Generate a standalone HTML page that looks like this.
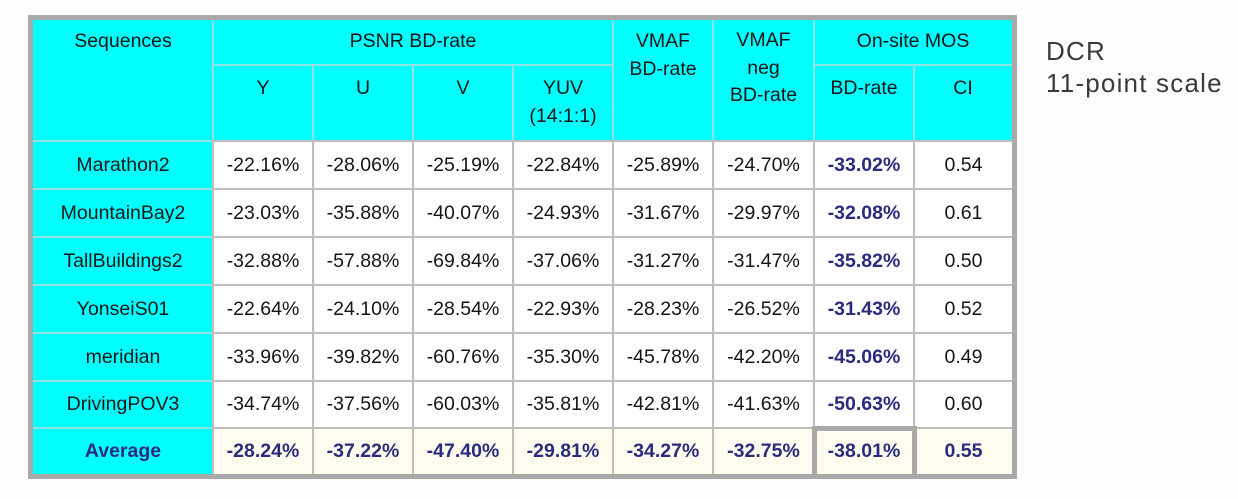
<!DOCTYPE html>
<html>
<head>
<meta charset="utf-8">
<style>
  html,body{margin:0;padding:0;}
  body{width:1238px;height:499px;background:#fdfdfd;position:relative;overflow:hidden;font-family:"Liberation Sans",Arial,sans-serif;}
  .abs{position:absolute;}
  .c{position:absolute;display:flex;align-items:center;justify-content:center;font-size:19.5px;color:#151515;}
  .b{font-weight:bold;color:#2b2b7d;}
  .h{position:absolute;text-align:center;font-size:19.5px;color:#151515;line-height:28px;}
  .lg{position:absolute;background:#bdbdbd;}
  .lc{position:absolute;background:#8fe3e3;}
</style>
</head>
<body>
<div class="abs" style="left:28px;top:15px;width:989px;height:464px;background:#a9a9a9;"></div>
<div class="abs" style="left:33px;top:20px;width:979px;height:454px;background:#ffffff;"></div>
<div class="abs" style="left:213px;top:428px;width:799px;height:46px;background:#fdfcee;"></div>
<div class="abs" style="left:33px;top:20px;width:979px;height:121px;background:#00ffff;"></div>
<div class="abs" style="left:33px;top:20px;width:180px;height:454px;background:#00ffff;"></div>

<div class="lc" style="left:213px;top:64px;width:400px;height:2px;"></div>
<div class="lc" style="left:814px;top:64px;width:198px;height:2px;"></div>
<div class="lc" style="left:312px;top:65px;width:2px;height:76px;"></div>
<div class="lc" style="left:412px;top:65px;width:2px;height:76px;"></div>
<div class="lc" style="left:512px;top:65px;width:2px;height:76px;"></div>
<div class="lc" style="left:913px;top:65px;width:2px;height:76px;"></div>
<div class="lc" style="left:612px;top:20px;width:2px;height:121px;"></div>
<div class="lc" style="left:712px;top:20px;width:2px;height:121px;"></div>
<div class="lc" style="left:813px;top:20px;width:2px;height:121px;"></div>
<div class="lc" style="left:212px;top:20px;width:2px;height:121px;"></div>
<div class="lc" style="left:33px;top:140px;width:180px;height:2px;"></div>
<div class="lc" style="left:33px;top:188px;width:180px;height:2px;"></div>
<div class="lc" style="left:33px;top:236px;width:180px;height:2px;"></div>
<div class="lc" style="left:33px;top:284px;width:180px;height:2px;"></div>
<div class="lc" style="left:33px;top:332px;width:180px;height:2px;"></div>
<div class="lc" style="left:33px;top:380px;width:180px;height:2px;"></div>
<div class="lc" style="left:33px;top:427px;width:180px;height:2px;"></div>

<div class="lg" style="left:212px;top:140px;width:800px;height:2px;"></div>
<div class="lg" style="left:212px;top:188px;width:800px;height:2px;"></div>
<div class="lg" style="left:212px;top:236px;width:800px;height:2px;"></div>
<div class="lg" style="left:212px;top:284px;width:800px;height:2px;"></div>
<div class="lg" style="left:212px;top:332px;width:800px;height:2px;"></div>
<div class="lg" style="left:212px;top:380px;width:800px;height:2px;"></div>
<div class="lg" style="left:212px;top:427px;width:800px;height:2px;"></div>
<div class="lg" style="left:212px;top:141px;width:2px;height:333px;"></div>
<div class="lg" style="left:312px;top:141px;width:2px;height:333px;"></div>
<div class="lg" style="left:412px;top:141px;width:2px;height:333px;"></div>
<div class="lg" style="left:512px;top:141px;width:2px;height:333px;"></div>
<div class="lg" style="left:612px;top:141px;width:2px;height:333px;"></div>
<div class="lg" style="left:712px;top:141px;width:2px;height:333px;"></div>
<div class="lg" style="left:813px;top:141px;width:2px;height:333px;"></div>
<div class="lg" style="left:913px;top:141px;width:2px;height:333px;"></div>

<div class="abs" style="left:812px;top:426px;width:95px;height:43px;border:5px solid #a9a9a9;"></div>

<div class="h" style="left:33px;top:27px;width:180px;">Sequences</div>
<div class="h" style="left:213px;top:27px;width:400px;">PSNR BD-rate</div>
<div class="h" style="left:613px;top:27px;width:100px;">VMAF<br>BD-rate</div>
<div class="h" style="left:713px;top:27px;width:101px;line-height:27.5px;">VMAF<br>neg<br>BD-rate</div>
<div class="h" style="left:814px;top:27px;width:198px;">On-site MOS</div>
<div class="h" style="left:213px;top:74px;width:100px;">Y</div>
<div class="h" style="left:313px;top:74px;width:100px;">U</div>
<div class="h" style="left:413px;top:74px;width:100px;">V</div>
<div class="h" style="left:513px;top:74px;width:100px;">YUV<br>(14:1:1)</div>
<div class="h" style="left:814px;top:74px;width:100px;">BD-rate</div>
<div class="h" style="left:914px;top:74px;width:98px;">CI</div>

<div class="c" style="left:33px;top:142px;width:180px;height:46px;">Marathon2</div>
<div class="c" style="left:214px;top:142px;width:98px;height:46px;">-22.16%</div>
<div class="c" style="left:314px;top:142px;width:98px;height:46px;">-28.06%</div>
<div class="c" style="left:414px;top:142px;width:98px;height:46px;">-25.19%</div>
<div class="c" style="left:514px;top:142px;width:98px;height:46px;">-22.84%</div>
<div class="c" style="left:614px;top:142px;width:98px;height:46px;">-25.89%</div>
<div class="c" style="left:714px;top:142px;width:99px;height:46px;">-24.70%</div>
<div class="c b" style="left:815px;top:142px;width:98px;height:46px;">-33.02%</div>
<div class="c" style="left:915px;top:142px;width:97px;height:46px;">0.54</div>

<div class="c" style="left:33px;top:190px;width:180px;height:46px;">MountainBay2</div>
<div class="c" style="left:214px;top:190px;width:98px;height:46px;">-23.03%</div>
<div class="c" style="left:314px;top:190px;width:98px;height:46px;">-35.88%</div>
<div class="c" style="left:414px;top:190px;width:98px;height:46px;">-40.07%</div>
<div class="c" style="left:514px;top:190px;width:98px;height:46px;">-24.93%</div>
<div class="c" style="left:614px;top:190px;width:98px;height:46px;">-31.67%</div>
<div class="c" style="left:714px;top:190px;width:99px;height:46px;">-29.97%</div>
<div class="c b" style="left:815px;top:190px;width:98px;height:46px;">-32.08%</div>
<div class="c" style="left:915px;top:190px;width:97px;height:46px;">0.61</div>

<div class="c" style="left:33px;top:238px;width:180px;height:46px;">TallBuildings2</div>
<div class="c" style="left:214px;top:238px;width:98px;height:46px;">-32.88%</div>
<div class="c" style="left:314px;top:238px;width:98px;height:46px;">-57.88%</div>
<div class="c" style="left:414px;top:238px;width:98px;height:46px;">-69.84%</div>
<div class="c" style="left:514px;top:238px;width:98px;height:46px;">-37.06%</div>
<div class="c" style="left:614px;top:238px;width:98px;height:46px;">-31.27%</div>
<div class="c" style="left:714px;top:238px;width:99px;height:46px;">-31.47%</div>
<div class="c b" style="left:815px;top:238px;width:98px;height:46px;">-35.82%</div>
<div class="c" style="left:915px;top:238px;width:97px;height:46px;">0.50</div>

<div class="c" style="left:33px;top:286px;width:180px;height:46px;">YonseiS01</div>
<div class="c" style="left:214px;top:286px;width:98px;height:46px;">-22.64%</div>
<div class="c" style="left:314px;top:286px;width:98px;height:46px;">-24.10%</div>
<div class="c" style="left:414px;top:286px;width:98px;height:46px;">-28.54%</div>
<div class="c" style="left:514px;top:286px;width:98px;height:46px;">-22.93%</div>
<div class="c" style="left:614px;top:286px;width:98px;height:46px;">-28.23%</div>
<div class="c" style="left:714px;top:286px;width:99px;height:46px;">-26.52%</div>
<div class="c b" style="left:815px;top:286px;width:98px;height:46px;">-31.43%</div>
<div class="c" style="left:915px;top:286px;width:97px;height:46px;">0.52</div>

<div class="c" style="left:33px;top:334px;width:180px;height:46px;">meridian</div>
<div class="c" style="left:214px;top:334px;width:98px;height:46px;">-33.96%</div>
<div class="c" style="left:314px;top:334px;width:98px;height:46px;">-39.82%</div>
<div class="c" style="left:414px;top:334px;width:98px;height:46px;">-60.76%</div>
<div class="c" style="left:514px;top:334px;width:98px;height:46px;">-35.30%</div>
<div class="c" style="left:614px;top:334px;width:98px;height:46px;">-45.78%</div>
<div class="c" style="left:714px;top:334px;width:99px;height:46px;">-42.20%</div>
<div class="c b" style="left:815px;top:334px;width:98px;height:46px;">-45.06%</div>
<div class="c" style="left:915px;top:334px;width:97px;height:46px;">0.49</div>

<div class="c" style="left:33px;top:382px;width:180px;height:45px;">DrivingPOV3</div>
<div class="c" style="left:214px;top:382px;width:98px;height:45px;">-34.74%</div>
<div class="c" style="left:314px;top:382px;width:98px;height:45px;">-37.56%</div>
<div class="c" style="left:414px;top:382px;width:98px;height:45px;">-60.03%</div>
<div class="c" style="left:514px;top:382px;width:98px;height:45px;">-35.81%</div>
<div class="c" style="left:614px;top:382px;width:98px;height:45px;">-42.81%</div>
<div class="c" style="left:714px;top:382px;width:99px;height:45px;">-41.63%</div>
<div class="c b" style="left:815px;top:382px;width:98px;height:45px;">-50.63%</div>
<div class="c" style="left:915px;top:382px;width:97px;height:45px;">0.60</div>

<div class="c b" style="left:33px;top:429px;width:180px;height:45px;">Average</div>
<div class="c b" style="left:214px;top:429px;width:98px;height:45px;">-28.24%</div>
<div class="c b" style="left:314px;top:429px;width:98px;height:45px;">-37.22%</div>
<div class="c b" style="left:414px;top:429px;width:98px;height:45px;">-47.40%</div>
<div class="c b" style="left:514px;top:429px;width:98px;height:45px;">-29.81%</div>
<div class="c b" style="left:614px;top:429px;width:98px;height:45px;">-34.27%</div>
<div class="c b" style="left:714px;top:429px;width:99px;height:45px;">-32.75%</div>
<div class="c b" style="left:815px;top:429px;width:98px;height:45px;">-38.01%</div>
<div class="c b" style="left:915px;top:429px;width:97px;height:45px;">0.55</div>

<div class="abs" style="left:1046px;top:35px;font-size:26px;line-height:32px;color:#3a3a3a;letter-spacing:1.2px;white-space:nowrap;">DCR<br>11-point scale</div>
</body>
</html>
